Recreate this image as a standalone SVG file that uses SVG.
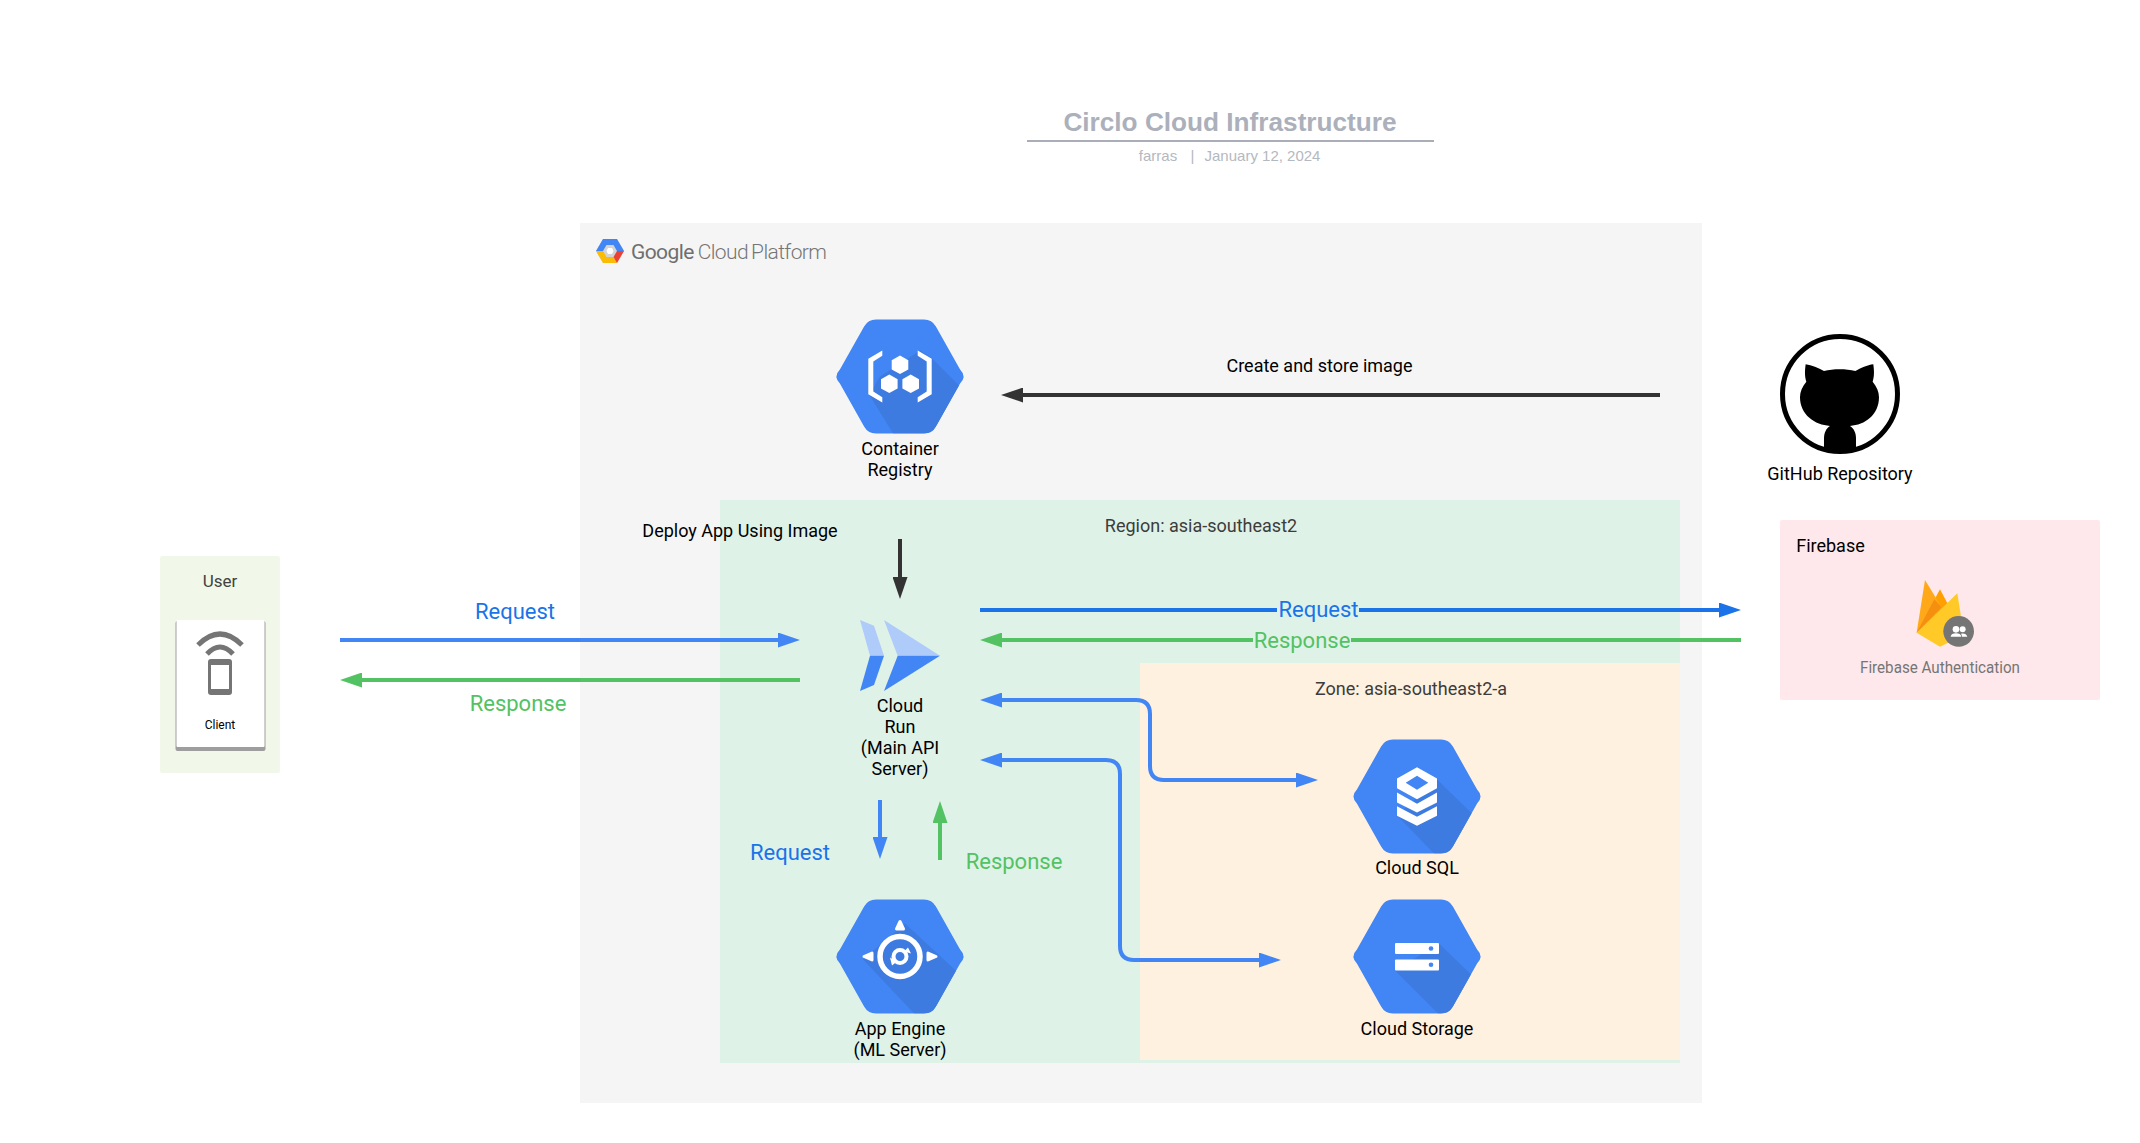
<svg xmlns="http://www.w3.org/2000/svg" xmlns:xlink="http://www.w3.org/1999/xlink" width="2140" height="1143" viewBox="0 0 2140 1143">
<style>
text{font-family:Roboto,"Liberation Sans",sans-serif;text-anchor:middle;fill:#000}
.n{font-size:18px}
.lb{font-size:22px;fill:#1a73e8}
.lg{font-size:22px;fill:#52c262}
.dk{fill:#3c3c3c;font-size:18px}
.ls{font-family:"Liberation Sans",sans-serif;font-size:15px;fill:#b4b8c0}
.conn{fill:none;stroke-width:4}
.hex{fill:#4285f4}
.sh{fill:#3d7be0}
.w{fill:#fff}
</style>
<defs>
<marker id="mb" markerUnits="userSpaceOnUse" markerWidth="23" markerHeight="15" refX="1" refY="7.5" orient="auto-start-reverse"><path d="M0 0L22 7.5L0 15z" fill="#4285f4"/></marker>
<marker id="md" markerUnits="userSpaceOnUse" markerWidth="23" markerHeight="15" refX="1" refY="7.5" orient="auto-start-reverse"><path d="M0 0L22 7.5L0 15z" fill="#1a73e8"/></marker>
<marker id="mg" markerUnits="userSpaceOnUse" markerWidth="23" markerHeight="15" refX="1" refY="7.5" orient="auto-start-reverse"><path d="M0 0L22 7.5L0 15z" fill="#52c262"/></marker>
<marker id="mk" markerUnits="userSpaceOnUse" markerWidth="23" markerHeight="15" refX="1" refY="7.5" orient="auto-start-reverse"><path d="M0 0L22 7.5L0 15z" fill="#333"/></marker>
<path id="hexp" d="M-35.900-50Q-32-57-24-57L24-57Q32-57 35.900-50L60.100-7Q67 0 60.100 7L35.900 50Q32 57 24 57L-24 57Q-32 57-35.900 50L-60.100 7Q-67 0-60.100-7Z"/>
<clipPath id="hexc"><use xlink:href="#hexp" href="#hexp"/></clipPath>
</defs>

<g id="title">
<text x="1230" y="131" style="font-family:'Liberation Sans',sans-serif;font-size:26.200px;font-weight:700;fill:#abb0bb">Circlo Cloud Infrastructure</text>
<line x1="1027" y1="141" x2="1434" y2="141" stroke="#a8adb8" stroke-width="2"/>
<text class="ls" x="1158" y="161">farras</text>
<text class="ls" x="1192.500" y="161">|</text>
<text class="ls" x="1262.500" y="161">January 12, 2024</text>
</g>

<g id="gcp-panel">
<rect x="580" y="223" width="1122" height="880" fill="#f5f5f5"/>
<g id="gcp-logo">
<g transform="translate(-4,-1)">
<path d="M600 252L607 240H621L628 252L621 264H607Z" fill="#d4d4d4"/>
<path d="M600 252L607 240H621L628 252H621L617.500 246H610.500L607 252Z" fill="#4285f4"/>
<path d="M600 252L607 264H621L617.500 258H610.500L607 252Z" fill="#fbbc05"/>
<path d="M628 252L621 264L617.500 258L621 252Z" fill="#ea4335"/>
<path d="M610.500 252L612 249H616L617.500 252L616 255H612Z" fill="#fff"/>
</g>
<text x="631" y="259" style="text-anchor:start;font-size:21px;fill:#6f6f6f;letter-spacing:-.6px"><tspan>Google</tspan><tspan dx="4" font-weight="300" fill="#757575">Cloud</tspan><tspan dx="3" font-weight="300" fill="#757575">Platform</tspan></text>
</g>
</g>
<g id="region">
<rect x="720" y="500" width="960" height="563" fill="#dff2e8"/>
<text class="dk" x="1201" y="532">Region: asia-southeast2</text>
</g>
<g id="zone">
<rect x="1140" y="663" width="540" height="397" fill="#fff1df"/>
<text class="dk" x="1411" y="695">Zone: asia-southeast2-a</text>
</g>

<g id="user">
<rect x="160" y="556" width="120" height="217" rx="2" fill="#f1f8e9"/>
<text x="220" y="587" style="font-size:17px;fill:#424242">User</text>
<g id="client">
<rect x="175.500" y="621" width="90" height="130" rx="2" fill="#9e9e9e"/>
<rect x="176.500" y="620" width="88" height="127" rx="1" fill="#fff"/>
<path d="M198 645Q220 623 242 645" fill="none" stroke="#757575" stroke-width="5"/>
<path d="M207 654Q220 640 233 654" fill="none" stroke="#757575" stroke-width="5"/>
<rect x="208" y="659" width="24" height="36" rx="3" fill="#757575"/>
<rect x="211" y="665" width="18" height="24" fill="#fff"/>
<text x="220" y="728.500" style="font-size:12px">Client</text>
</g>
</g>

<g id="connectors">
<path class="conn" stroke="#4285f4" d="M340 640H779" marker-end="url(#mb)"/>
<path class="conn" stroke="#52c262" d="M800 680H361" marker-end="url(#mg)"/>
<path class="conn" stroke="#333" d="M1660 395H1022" marker-end="url(#mk)"/>
<path class="conn" stroke="#333" d="M900 539V578" marker-end="url(#mk)"/>
<path class="conn" stroke="#1a73e8" d="M980 610H1720" marker-end="url(#md)"/>
<path class="conn" stroke="#52c262" d="M1741 640H1001" marker-end="url(#mg)"/>
<path class="conn" stroke="#4285f4" d="M1001 700H1136Q1150 700 1150 714V766Q1150 780 1164 780H1297" marker-start="url(#mb)" marker-end="url(#mb)"/>
<path class="conn" stroke="#4285f4" d="M1001 760H1106Q1120 760 1120 774V946Q1120 960 1134 960H1260" marker-start="url(#mb)" marker-end="url(#mb)"/>
<path class="conn" stroke="#4285f4" d="M880 800V838" marker-end="url(#mb)"/>
<path class="conn" stroke="#52c262" d="M940 860V822" marker-end="url(#mg)"/>
</g>

<g id="container-registry">
<g transform="translate(900,376.500)">
<use xlink:href="#hexp" href="#hexp" class="hex"/>
<g clip-path="url(#hexc)"><path class="sh" d="M8-18L20-26L32-18L62 12L64 60H-5L-31 18L-20 0Z"/></g>
<path class="w" d="M-17.700-26L-31.700-17.700V17.700L-17.700 26V20.700L-26.700 15V-15L-17.700-20.700Z"/>
<path class="w" d="M17.700-26L31.700-17.700V17.700L17.700 26V20.700L26.700 15V-15L17.700-20.700Z"/>
<path class="w" d="M0-21L8.300-16.300V-7.100L0-2.400L-8.300-7.100V-16.300Z"/>
<path class="w" d="M-10.700-2L-2.400 2.700V11.900L-10.700 16.600L-19 11.900V2.700Z"/>
<path class="w" d="M10.700-2L19 2.700V11.900L10.700 16.600L2.400 11.900V2.700Z"/>
</g>
<text class="n" x="900" y="454.500">Container</text>
<text class="n" x="900" y="475.500">Registry</text>
</g>

<g id="cloud-run">
<path d="M860 620L874 625.700L884 655.700H870Z" fill="#aecbfa"/>
<path d="M870 655.700H884L874 685L860 691Z" fill="#4285f4"/>
<path d="M884 620L940 655.700H897.700Z" fill="#aecbfa"/>
<path d="M897.700 655.700H940L884 691Z" fill="#4285f4"/>
<text class="n" x="900" y="711.500">Cloud</text>
<text class="n" x="900" y="732.500">Run</text>
<text class="n" x="900" y="753.500">(Main API</text>
<text class="n" x="900" y="774.500">Server)</text>
</g>

<g id="app-engine">
<g transform="translate(900,956.500)">
<use xlink:href="#hexp" href="#hexp" class="hex"/>
<g clip-path="url(#hexc)"><path class="sh" d="M5-33L60 18L40 60H17L-37 3Z"/></g>
<circle r="20" fill="none" stroke="#fff" stroke-width="5.500"/>
<circle r="6.500" fill="none" stroke="#fff" stroke-width="4"/>
<path class="w" d="M8-9L11-3L4-5ZM-8 9L-10 1L-3 5Z"/>
<path class="w" stroke="#fff" stroke-width="3" stroke-linejoin="round" d="M0-35L-3.500-27.500H3.500Z"/>
<path class="w" stroke="#fff" stroke-width="3" stroke-linejoin="round" d="M-36 0L-28-3.500V3.500Z"/>
<path class="w" stroke="#fff" stroke-width="3" stroke-linejoin="round" d="M36 0L28-3.500V3.500Z"/>
</g>
<text class="n" x="900" y="1035">App Engine</text>
<text class="n" x="900" y="1056">(ML Server)</text>
</g>

<g id="cloud-sql">
<g transform="translate(1417,796.500)">
<use xlink:href="#hexp" href="#hexp" class="hex"/>
<g clip-path="url(#hexc)"><path class="sh" d="M20-17L56 18L40 60H20L-20 19Z"/></g>
<path class="w" fill-rule="evenodd" d="M0-29.300L20-18V-8.300L0 2.700L-20-8.300V-18ZM0-20.700L-11.300-13.700L0-6.700L11.300-13.700Z"/>
<path class="w" d="M-20-4L0 7.300L20-4V6L0 16L-20 6Z"/>
<path class="w" d="M-20 9.700L0 20.300L20 9.700V19.300L0 29.300L-20 19.300Z"/>
</g>
<text class="n" x="1417" y="874">Cloud SQL</text>
</g>

<g id="cloud-storage">
<g transform="translate(1417,956.500)">
<use xlink:href="#hexp" href="#hexp" class="hex"/>
<g clip-path="url(#hexc)"><path class="sh" d="M22-13L54 18L40 60H24L-22 14Z"/></g>
<rect x="-22" y="-13.500" width="44" height="11" rx="1" fill="#fff"/>
<rect x="-22" y="3" width="44" height="11" rx="1" fill="#fff"/>
<circle cx="14" cy="-8" r="2.300" fill="#4285f4"/>
<circle cx="14" cy="8.300" r="2.300" fill="#4285f4"/>
</g>
<text class="n" x="1417" y="1035">Cloud Storage</text>
</g>

<g id="github">
<circle cx="1840" cy="394" r="57.500" fill="#fff" stroke="#000" stroke-width="5"/>
<g transform="translate(1740,320) scale(.3333)">
<path d="M197 133C215 135 235 145 252 153C280 146 318 146 346 153C362 145 382 135 400 133C403 155 403 170 398 185C410 200 417 215 417 232C417 285 375 315 330 318C342 325 348 340 348 355L348 388C320 396 280 396 252 388L252 355C252 340 258 325 270 318C225 315 180 285 180 232C180 215 187 200 199 185C194 170 194 155 197 133Z"/>
</g>
<text class="n" x="1840" y="480">GitHub Repository</text>
</g>

<g id="firebase">
<rect x="1780" y="520" width="320" height="180" rx="2" fill="#fee8eb"/>
<text x="1796.200" y="551.700" style="text-anchor:start;font-size:18px">Firebase</text>
<g id="firebase-auth" transform="translate(1740,320) scale(.3333)">
<path d="M530 938L600 808L625 855L600 900Z" fill="#ffa000"/>
<path d="M530 938L555 780L605 862Z" fill="#ffa91a"/>
<path d="M530 938L583 838L605 862Z" fill="#f58f0f"/>
<path d="M530 938L652 820L672 945L600 980Z" fill="#ffca28"/>
<circle cx="656" cy="934" r="46" fill="#757575"/>
<circle cx="648" cy="928" r="10" fill="#fff"/>
<circle cx="668" cy="928" r="9" fill="#fff"/>
<path d="M632 950Q634 940 648 940Q662 940 664 950ZM666 950Q666 945 663 941Q678 938 682 950Z" fill="#fff"/>
</g>
<text x="1940" y="672.700" style="font-size:16px;fill:#757575" textLength="160" lengthAdjust="spacingAndGlyphs">Firebase Authentication</text>
</g>

<g id="labels">
<text class="lb" x="515" y="619">Request</text>
<text class="lg" x="518" y="711">Response</text>
<text class="lb" x="790" y="860">Request</text>
<text class="lg" x="1014" y="868.500">Response</text>
<rect x="1277" y="597" width="82" height="26" fill="#dff2e8"/>
<text class="lb" x="1318.500" y="617">Request</text>
<rect x="1253" y="627" width="98" height="26" fill="#dff2e8"/>
<text class="lg" x="1302" y="647.500">Response</text>
<text x="740" y="536.500" style="font-size:18px">Deploy App Using Image</text>
<text x="1319.500" y="371.700" style="font-size:18px">Create and store image</text>
</g>
</svg>
